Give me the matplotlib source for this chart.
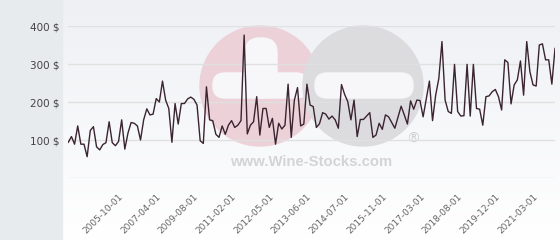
import numpy as np
import matplotlib
matplotlib.use("Agg")
import matplotlib.pyplot as plt
from matplotlib.patches import Rectangle, Circle, FancyBboxPatch

# price per bottle, one value per quotation (category axis)
prices = [
    94, 109, 89, 137, 89, 89, 56, 125, 135, 82,
    74, 88, 93, 148, 93, 85, 96, 153, 76, 118,
    146, 144, 137, 100, 153, 182, 166, 168, 209, 200,
    255, 205, 183, 94, 196, 142, 196, 196, 208, 213,
    207, 192, 98, 91, 240, 153, 151, 115, 107, 137,
    115, 139, 151, 133, 139, 151, 376, 116, 139, 148,
    214, 113, 183, 183, 133, 157, 89, 144, 129, 139,
    247, 107, 205, 238, 137, 142, 247, 192, 188, 133,
    143, 172, 168, 155, 163, 153, 131, 246, 220, 201,
    153, 205, 109, 154, 154, 163, 172, 107, 113, 144,
    128, 166, 161, 146, 131, 160, 189, 166, 142, 203,
    181, 205, 204, 161, 208, 255, 151, 218, 262, 359,
    205, 175, 170, 299, 175, 163, 164, 299, 163, 299,
    183, 181, 139, 214, 216, 227, 233, 214, 179, 311,
    304, 195, 245, 258, 308, 218, 359, 280, 245, 242,
    350, 353, 311, 311, 247, 341,
]
tick_labels = ["2005-10-01", "2007-04-01", "2009-08-01", "2011-02-01",
               "2012-05-01", "2013-06-01", "2014-07-01", "2015-11-01",
               "2017-03-01", "2018-08-01", "2019-12-01", "2021-03-01"]
tick_idx = [16 + 12 * k for k in range(len(tick_labels))]
y_ticks = [0, 100, 200, 300, 400]
y_labels = ["" if v == 0 else f"{v} $" for v in y_ticks]

W, H = 560, 240
fig = plt.figure(figsize=(W / 100, H / 100), dpi=100)

# background layer in pixel coordinates
bg = fig.add_axes([0, 0, 1, 1], zorder=0)
bg.set_xlim(0, W)
bg.set_ylim(H, 0)
bg.axis("off")
grad = np.linspace(0, 1, 100)[:, None]
top = np.array([238, 240, 244]) / 255
bot = np.array([255, 255, 255]) / 255
img = top[None, None, :] * (1 - grad[..., None]) + bot[None, None, :] * grad[..., None]
img = np.repeat(img, 2, axis=1)
bg.imshow(img, extent=(62, W, H, 0), aspect="auto", zorder=0)
bg.add_patch(Rectangle((0, 0), 62, H, color="#e7ebee", zorder=1))

# watermark
bg.add_patch(Circle((260, 86), 60, color="#ecd2d8", zorder=2))
bg.add_patch(Circle((363, 86), 60, color="#dcdcdf", zorder=3))
white = "#f7f7f9"
bg.add_patch(FancyBboxPatch((245, 38), 32, 60, boxstyle="round,pad=0,rounding_size=15",
                            color=white, zorder=4))
bg.add_patch(FancyBboxPatch((213, 73), 95, 25, boxstyle="round,pad=0,rounding_size=12",
                            color=white, zorder=2.5))
bg.add_patch(FancyBboxPatch((315, 73), 98, 25, boxstyle="round,pad=0,rounding_size=12",
                            color=white, zorder=4))
bg.text(311, 162, "www.Wine-Stocks.com", family="Liberation Sans", weight="bold",
        fontsize=10.7, color="#d4d4d6", ha="center", va="center", zorder=5)
bg.text(413, 139, "\u00ae", fontsize=10, color="#d0d0d2", ha="center", va="center", zorder=5)

# main chart
left, right, ytop, ybot = 68.3, 555, 26, 178
ax = fig.add_axes([left / W, 1 - ybot / H, (right - left) / W, (ybot - ytop) / H], zorder=1)
ax.patch.set_alpha(0)
n = len(prices)
ax.plot(range(n), prices, color="#3a2430", lw=1, zorder=3)
ax.set_xlim(0, n - 1)
ax.set_ylim(0, 400)
ax.set_yticks(y_ticks)
ax.set_yticklabels(y_labels, fontsize=7.5, color="#444444")
ax.grid(axis="y", color="#e0e0e0", lw=1)
ax.set_xticks(tick_idx)
ax.set_xticklabels(tick_labels, rotation=45, ha="right", va="top",
                   rotation_mode="anchor", fontsize=6.5, color="#666666")
ax.tick_params(axis="both", length=0)
ax.tick_params(axis="y", pad=6)
ax.tick_params(axis="x", pad=10)
for s in ax.spines.values():
    s.set_visible(False)

fig.savefig("out.png", dpi=100)
